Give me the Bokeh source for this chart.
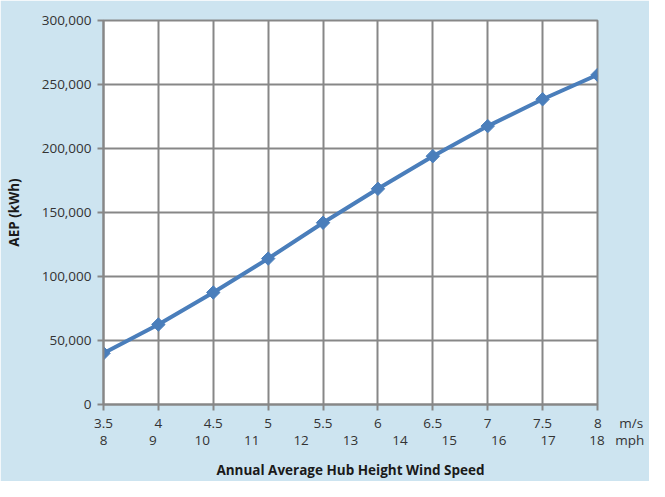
import math
from bokeh.plotting import figure
from bokeh.embed import file_html
from bokeh.resources import INLINE
from bokeh.models import Range1d, NumeralTickFormatter, FixedTicker, LinearAxis

speed_ms = [3.5, 4.0, 4.5, 5.0, 5.5, 6.0, 6.5, 7.0, 7.5, 8.0]
aep_kwh = [40000, 62500, 87500, 114000, 142000, 168500, 194000, 217500, 238500, 257500]
tick_ms = [3.5, 4, 4.5, 5, 5.5, 6, 6.5, 7, 7.5, 8]
tick_mph = [8, 9, 10, 11, 12, 13, 14, 15, 16, 17, 18]
y_ticks = [0, 50000, 100000, 150000, 200000, 250000, 300000]
unit_ms = "m/s"
unit_mph = "mph"

BG = "#cde4f0"
GRID = "#878787"
FONT = "Open Sans"
FS = "13.5px"
NB = "\u00a0"

p = figure(width=649, height=481, output_backend="svg", toolbar_location=None,
           x_range=Range1d(3.5, 8), y_range=Range1d(0, 300000),
           min_border_left=103, min_border_right=52, min_border_top=20, min_border_bottom=76)
p.extra_x_ranges = {"mph": Range1d(8, 18)}
p.background_fill_color = "white"
p.border_fill_color = BG
p.outline_line_color = GRID
p.outline_line_width = 2

for g in (p.xgrid, p.ygrid):
    g.grid_line_color = GRID
    g.grid_line_width = 2
p.xgrid.ticker = FixedTicker(ticks=tick_ms)
p.ygrid.ticker = FixedTicker(ticks=y_ticks)

xa = p.xaxis[0]
xa.ticker = FixedTicker(ticks=tick_ms)
xa.major_label_overrides = {tick_ms[-1]: NB * 12 + f"{tick_ms[-1]:g}" + NB * 5 + unit_ms}

xc = LinearAxis(x_range_name="mph", ticker=FixedTicker(ticks=tick_mph))
xc.major_label_overrides = {tick_mph[-1]: NB * 11 + f"{tick_mph[-1]}" + NB * 3 + unit_mph}
xc.axis_label = "Annual Average Hub Height Wind Speed"
p.add_layout(xc, "below")

ya = p.yaxis[0]
ya.ticker = FixedTicker(ticks=y_ticks)
ya.formatter = NumeralTickFormatter(format="0,0")
ya.axis_label = "AEP (kWh)"

for ax in (xa, xc, ya):
    ax.axis_line_color = GRID
    ax.axis_line_width = 2
    ax.major_tick_line_color = GRID
    ax.major_tick_line_width = 2
    ax.major_tick_out = 6
    ax.major_tick_in = 0
    ax.minor_tick_line_color = None
    ax.major_label_text_font = FONT
    ax.major_label_text_font_size = FS
    ax.major_label_text_color = "#333333"
    ax.axis_label_text_font = FONT
    ax.axis_label_text_font_size = FS
    ax.axis_label_text_font_style = "bold"
    ax.axis_label_text_color = "#1a1a1a"

xc.axis_line_color = None
xc.major_tick_line_color = None
xc.major_tick_out = 0
xa.major_label_standoff = 3
xc.major_label_standoff = -4
xc.axis_label_standoff = 9
ya.major_label_standoff = 6
ya.axis_label_standoff = 16

p.line(speed_ms, aep_kwh, line_color="#4a7ebb", line_width=4)
p.scatter(speed_ms, aep_kwh, marker="square", angle=math.pi / 4, size=9.5,
          fill_color="#4a7ebb", line_color="#4a7ebb", line_width=1)

open("out.html", "w").write(file_html(p, INLINE))
